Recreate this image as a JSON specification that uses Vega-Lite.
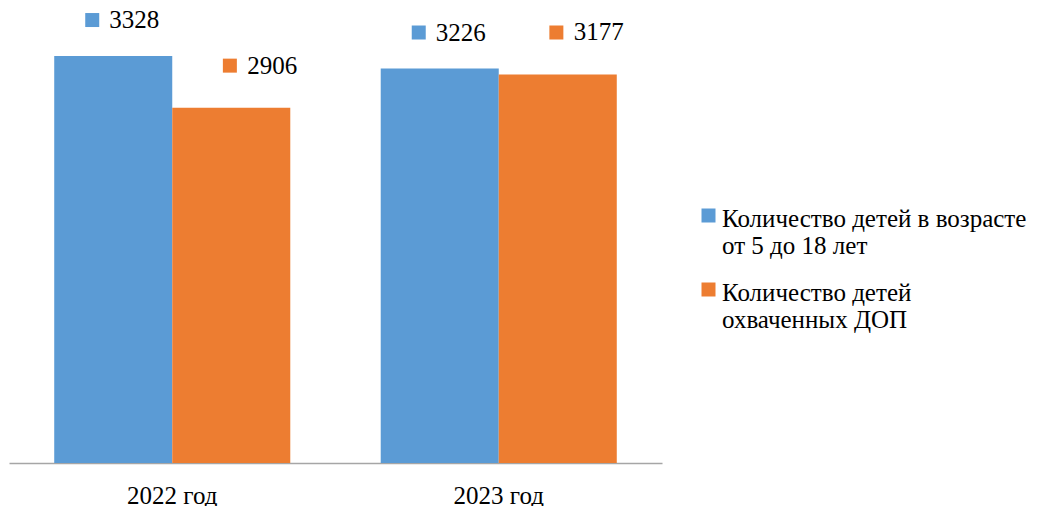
{
  "$schema": "https://vega.github.io/schema/vega-lite/v6.json",
  "width": 653,
  "height": 428,
  "autosize": {"type": "none"},
  "padding": {"left": 9, "top": 35, "right": 388, "bottom": 43},
  "background": "white",
  "config": {"view": {"stroke": null}, "font": "Times New Roman, Liberation Serif, serif", "text": {"font": "Times New Roman, Liberation Serif, serif"}},
  "data": {
    "values": [
      {"year": "2022 год", "series": "Количество детей в возрасте от 5 до 18 лет", "value": 3328},
      {"year": "2022 год", "series": "Количество детей охваченных ДОП", "value": 2906},
      {"year": "2023 год", "series": "Количество детей в возрасте от 5 до 18 лет", "value": 3226},
      {"year": "2023 год", "series": "Количество детей охваченных ДОП", "value": 3177}
    ]
  },
  "encoding": {
    "x": {
      "field": "year", "type": "nominal", "sort": null,
      "scale": {"paddingInner": 0.277, "paddingOuter": 0.1385},
      "axis": {
        "title": null, "labelAngle": 0, "ticks": false, "domainColor": "#A6A6A6", "domainWidth": 1.5,
        "labelFont": "Times New Roman, Liberation Serif, serif", "labelFontSize": 25, "labelColor": "black", "labelPadding": 20, "grid": false
      }
    },
    "xOffset": {
      "field": "series", "type": "nominal", "sort": null,
      "scale": {"domain": ["Количество детей в возрасте от 5 до 18 лет", "Количество детей охваченных ДОП"], "paddingInner": 0, "paddingOuter": 0}
    },
    "y": {"field": "value", "type": "quantitative", "scale": {"domain": [0, 3500]}, "axis": null}
  },
  "layer": [
    {
      "mark": {"type": "bar"},
      "encoding": {
        "color": {
          "field": "series", "type": "nominal",
          "scale": {"domain": ["Количество детей в возрасте от 5 до 18 лет", "Количество детей охваченных ДОП"], "range": ["#5B9BD5", "#ED7D31"]},
          "legend": {
            "orient": "none", "legendX": 687, "legendY": 168, "title": null, "padding": 0,
            "symbolType": "square", "symbolSize": 196, "symbolStrokeWidth": 0, "symbolOpacity": 1,
            "labelFont": "Times New Roman, Liberation Serif, serif", "labelFontSize": 25, "labelColor": "black",
            "labelLineHeight": 27, "labelLimit": 400, "labelOffset": 1, "rowPadding": 18, "labelBaseline": "top",
            "labelExpr": "datum.label == 'Количество детей в возрасте от 5 до 18 лет' ? ['Количество детей в возрасте', 'от 5 до 18 лет'] : ['Количество детей', 'охваченных ДОП']",
            "encode": {"labels": {"update": {"dy": {"value": -9}}}}
          }
        }
      }
    },
    {
      "transform": [{"filter": "datum.series == 'Количество детей в возрасте от 5 до 18 лет'"}],
      "mark": {"type": "point", "shape": "M -4 -1 h 2 v 2 h -2 Z", "size": 196, "filled": true, "opacity": 1, "strokeWidth": 0, "color": "#5B9BD5", "yOffset": -36}
    },
    {
      "transform": [{"filter": "datum.series == 'Количество детей в возрасте от 5 до 18 лет'"}],
      "mark": {"type": "text", "align": "left", "baseline": "middle", "dx": -4, "dy": -36, "fontSize": 25, "font": "serif", "color": "black"},
      "encoding": {"text": {"field": "value", "type": "nominal"}}
    },
    {
      "transform": [{"filter": "datum.series == 'Количество детей охваченных ДОП'"}],
      "mark": {"type": "point", "shape": "M -1.2 -1 h 2 v 2 h -2 Z", "size": 196, "filled": true, "opacity": 1, "strokeWidth": 0, "color": "#ED7D31", "yOffset": -42}
    },
    {
      "transform": [{"filter": "datum.series == 'Количество детей охваченных ДОП'"}],
      "mark": {"type": "text", "align": "left", "baseline": "middle", "dx": 16, "dy": -42, "fontSize": 25, "font": "serif", "color": "black"},
      "encoding": {"text": {"field": "value", "type": "nominal"}}
    }
  ]
}
